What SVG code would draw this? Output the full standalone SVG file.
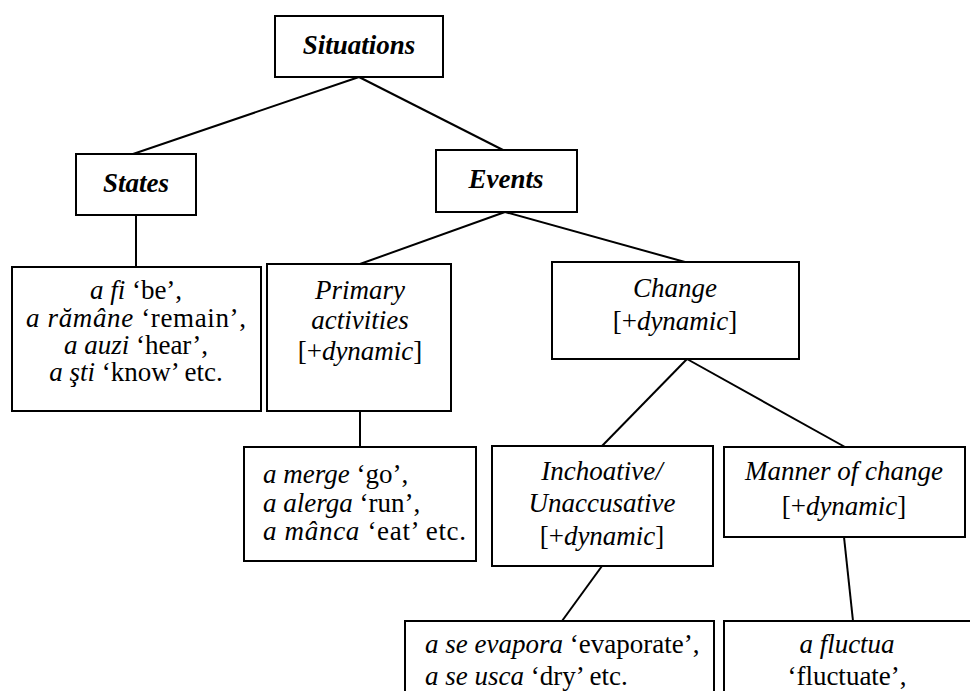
<svg xmlns="http://www.w3.org/2000/svg" width="970" height="691" viewBox="0 0 970 691">
<defs>
<style>
.box{fill:#fff;stroke:#000;stroke-width:2}
.ln{stroke:#000;stroke-width:2;fill:none}
</style>
</defs>
<rect width="970" height="691" fill="#fff"/>
<g id="connectors">
<line class="ln" x1="359" y1="77" x2="133" y2="154"/>
<line class="ln" x1="359" y1="77" x2="503" y2="150"/>
<line class="ln" x1="136" y1="215" x2="136" y2="267"/>
<line class="ln" x1="505" y1="212" x2="360" y2="264"/>
<line class="ln" x1="505" y1="212" x2="685" y2="262"/>
<line class="ln" x1="360" y1="399" x2="360" y2="447"/>
<line class="ln" x1="687" y1="359" x2="602" y2="446"/>
<line class="ln" x1="687" y1="359" x2="845" y2="447"/>
<line class="ln" x1="602" y1="566" x2="562" y2="621"/>
<line class="ln" x1="844" y1="537" x2="853" y2="621"/>
</g>
<g font-family="Liberation Serif, serif" font-size="27" fill="#000">
<g id="situations">
<rect class="box" x="275" y="16" width="168" height="61"/>
<text x="359" y="54" text-anchor="middle" font-weight="bold" font-style="italic">Situations</text>
</g>
<g id="states">
<rect class="box" x="76" y="154" width="120" height="61"/>
<text x="136" y="192" text-anchor="middle" font-weight="bold" font-style="italic">States</text>
</g>
<g id="events">
<rect class="box" x="436" y="150" width="141" height="62"/>
<text x="506" y="188" text-anchor="middle" font-weight="bold" font-style="italic">Events</text>
</g>
<g id="states-examples" text-anchor="middle">
<rect class="box" x="12" y="267" width="249" height="144"/>
<text x="136" y="299"><tspan font-style="italic">a fi</tspan> ‘be’,</text>
<text x="136" y="327" textLength="220" lengthAdjust="spacing"><tspan font-style="italic">a rămâne</tspan> ‘remain’,</text>
<text x="136" y="354"><tspan font-style="italic">a auzi</tspan> ‘hear’,</text>
<text x="136" y="381"><tspan font-style="italic">a şti</tspan> ‘know’ etc.</text>
</g>
<g id="primary" text-anchor="middle">
<rect class="box" x="267" y="264" width="184" height="147"/>
<text x="360" y="299" font-style="italic">Primary</text>
<text x="360" y="329" font-style="italic">activities</text>
<text x="360" y="360">[+<tspan font-style="italic">dynamic</tspan>]</text>
</g>
<g id="change" text-anchor="middle">
<rect class="box" x="552" y="262" width="247" height="97"/>
<text x="675" y="297" font-style="italic">Change</text>
<text x="675" y="330">[+<tspan font-style="italic">dynamic</tspan>]</text>
</g>
<g id="primary-examples">
<rect class="box" x="244" y="447" width="232" height="114"/>
<text x="263" y="483"><tspan font-style="italic">a merge</tspan> ‘go’,</text>
<text x="263" y="512"><tspan font-style="italic">a alerga</tspan> ‘run’,</text>
<text x="263" y="540" textLength="203" lengthAdjust="spacing"><tspan font-style="italic">a mânca</tspan> ‘eat’ etc.</text>
</g>
<g id="inchoative" text-anchor="middle">
<rect class="box" x="492" y="446" width="221" height="120"/>
<text x="602" y="480" font-style="italic">Inchoative/</text>
<text x="602" y="512" font-style="italic">Unaccusative</text>
<text x="602" y="545">[+<tspan font-style="italic">dynamic</tspan>]</text>
</g>
<g id="manner" text-anchor="middle">
<rect class="box" x="724" y="447" width="241" height="90"/>
<text x="844" y="480" font-style="italic">Manner of change</text>
<text x="844" y="515">[+<tspan font-style="italic">dynamic</tspan>]</text>
</g>
<g id="inchoative-examples">
<rect class="box" x="405" y="621" width="309" height="90"/>
<text x="425" y="653"><tspan font-style="italic">a se evapora</tspan> ‘evaporate’,</text>
<text x="425" y="685"><tspan font-style="italic">a se usca</tspan> ‘dry’ etc.</text>
</g>
<g id="manner-examples" text-anchor="middle">
<rect class="box" x="724" y="621" width="280" height="90"/>
<text x="847" y="653" font-style="italic">a fluctua</text>
<text x="847" y="685">‘fluctuate’,</text>
</g>
</g>
</svg>
